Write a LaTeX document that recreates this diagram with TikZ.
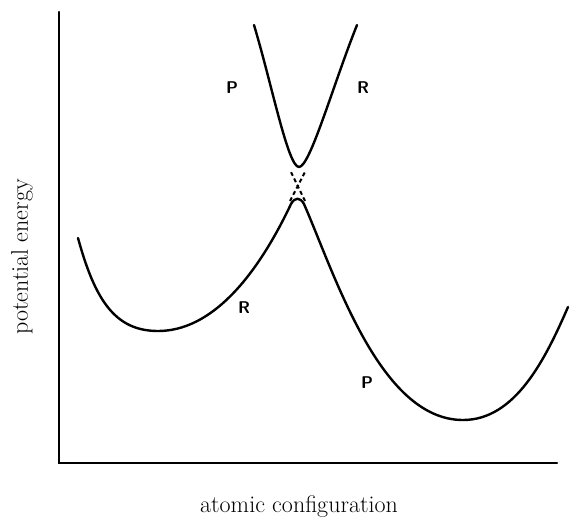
\documentclass[tikz,border=0pt]{standalone}
\usepackage{tikz}
\usetikzlibrary{positioning}
\tikzset{
  pecurve/.style = {line width=2.4pt, line cap=round, line join=round},
  crossdash/.style = {line width=2pt, dash pattern=on 4pt off 3pt},
  axisline/.style = {line width=2.2pt, line cap=round},
  statelabel/.style = {font=\sffamily\bfseries\fontsize{17}{19}\selectfont, inner sep=0pt},
  axislabel/.style = {font=\fontsize{24}{28}\selectfont, inner sep=0pt},
}

\begin{document}
\begin{tikzpicture}[x=1pt,y=-1pt]

  \useasboundingbox (0,0) rectangle (573,517);

  % Axes
  \draw[axisline] (59,12) -- (59,463) -- (557,463);

  % Axis labels
  \node[axislabel, rotate=90] (ylab) at (22,257) {potential energy};
  \node[axislabel] (xlab) at (299,507) {atomic configuration};

  % Lower surface: R well on the left, P well on the right
  \draw[pecurve] (78,238) .. controls (95,300) and (115,331) .. (158,331)
    .. controls (210,331) and (255,280) .. (291,204)
    .. controls (295,197) and (300,197) .. (304,204)
    .. controls (335,275) and (380,420) .. (463,420)
    .. controls (515,420) and (545,360) .. (568,307);

  % Upper surface
  \draw[pecurve] (254,25) .. controls (272,85) and (288,167) .. (299,167)
    .. controls (310,167) and (333,85) .. (357,25);

  % Crossing of the two diabatic curves
  \draw[crossdash] (290,201) -- (305,172);
  \draw[crossdash] (305,201) -- (291,172);

  % State labels
  \node[statelabel] (pup) at (232,88) {P};
  \node[statelabel] (rup) at (363,88) {R};
  \node[statelabel] (rlow) at (244,308) {R};
  \node[statelabel] (plow) at (367,383) {P};

\end{tikzpicture}
\end{document}
